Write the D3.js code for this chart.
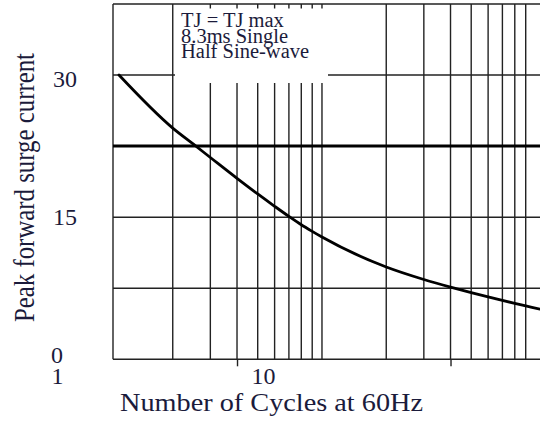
<!DOCTYPE html>
<html>
<head>
<meta charset="utf-8">
<script src="https://cdn.jsdelivr.net/npm/d3@7"></script>
<style>
  html, body { margin: 0; padding: 0; background: #fff; }
  svg { display: block; }
  svg text { font-family: "Liberation Serif", "DejaVu Serif", serif; }
</style>
</head>
<body>
<svg id="chart" width="540" height="421"></svg>
<script>
// ---- data ----
const cycles  = [1.12, 2, 2.5, 3, 4, 5, 6, 7, 8, 9, 10, 20, 30, 40, 50, 60, 70, 80, 90, 105];
const current = [30, 24.4, 22.7, 21.3, 19.1, 17.45, 16.15, 15.08, 14.2, 13.5, 12.9, 9.74, 8.42, 7.61, 7.03, 6.58, 6.21, 5.9, 5.64, 5.3];
const xGridValues = [2, 3, 4, 5, 6, 7, 8, 9, 10, 20, 30, 40, 50, 60, 70, 80, 90];
const yGridValues = [7.5, 15, 30, 37.5];
const refLevel = [22.5];
const yTickValues = [0, 15, 30];
const xTickMarks = [4, 40];
const xTickLabels = ["1", "10"];
const noteLines = ["TJ = TJ max", "8.3ms Single", "Half Sine-wave"];
const xTitle = "Number of Cycles at 60Hz";
const yTitle = "Peak forward surge current";

// ---- layout ----
const W = 540, H = 421;
const mLeft = 113, mRight = 540, mTop = 4, mBottom = 359.3;
const ink = "#1b1b3b";

const svg = d3.select("#chart");
svg.append("rect").attr("width", W).attr("height", H).attr("fill", "#fff");

const x = d3.scaleLog().domain([1.05, 105]).range([mLeft, mRight]);
const y = d3.scaleLinear().domain([0, 37.5]).range([mBottom, mTop]);

const grid = svg.append("g").attr("stroke", "#222").attr("stroke-width", 1.4);

// vertical grid
grid.selectAll("line.v").data(xGridValues).join("line")
  .attr("class", "v")
  .attr("x1", d => x(d)).attr("x2", d => x(d))
  .attr("y1", y(0)).attr("y2", y(37.5));

// horizontal grid
grid.selectAll("line.h").data(yGridValues).join("line")
  .attr("class", "h")
  .attr("x1", mLeft).attr("x2", mRight)
  .attr("y1", d => y(d)).attr("y2", d => y(d));

// frame left & bottom
grid.append("line").attr("x1", mLeft).attr("x2", mLeft).attr("y1", y(0)).attr("y2", y(37.5));
grid.append("line").attr("x1", mLeft).attr("x2", mRight).attr("y1", y(0)).attr("y2", y(0));

// reference level (bold)
svg.selectAll("line.ref").data(refLevel).join("line")
  .attr("class", "ref")
  .attr("x1", mLeft).attr("x2", mRight)
  .attr("y1", d => y(d)).attr("y2", d => y(d))
  .attr("stroke", "#000").attr("stroke-width", 3);

// note box (white, covers grid)
svg.append("rect")
  .attr("x", 175).attr("y", 8.5).attr("width", 153).attr("height", 74.5)
  .attr("fill", "#fff");

const note = svg.append("text").attr("font-size", 20.5).attr("fill", ink);
note.selectAll("tspan").data(noteLines).join("tspan")
  .attr("x", 181)
  .attr("y", (d, i) => 26.7 + i * 15.8)
  .text(d => d);

// x tick marks below the axis
const xAxis = svg.append("g")
  .attr("transform", `translate(0,${mBottom})`)
  .call(d3.axisBottom(x).tickValues(xTickMarks).tickSize(7).tickFormat(() => ""));
xAxis.select(".domain").remove();
xAxis.selectAll(".tick line").attr("stroke", "#222").attr("stroke-width", 1.4);

// y axis labels
const yAxis = svg.append("g")
  .attr("transform", `translate(${mLeft},0)`)
  .call(d3.axisLeft(y).tickValues(yTickValues).tickSize(0).tickFormat(d3.format("d")));
yAxis.select(".domain").remove();
yAxis.selectAll(".tick text")
  .attr("font-family", null)
  .attr("font-size", 24).attr("fill", ink)
  .attr("dy", 0)
  .attr("text-anchor", d => d === 0 ? "middle" : "end")
  .attr("x", d => d === 0 ? -56 : -36)
  .attr("y", d => d === 30 ? 11.9 : d === 15 ? 7.8 : 3.4);

// x tick labels (as placed in the original)
const xLabelPos = [57.5, 263.5];
svg.selectAll("text.xl").data(xTickLabels).join("text")
  .attr("class", "xl")
  .attr("x", (d, i) => xLabelPos[i]).attr("y", 384)
  .attr("text-anchor", "middle")
  .attr("font-size", 24).attr("fill", ink)
  .text(d => d);

// curve
const pts = cycles.map((c, i) => [c, current[i]]);
svg.append("path")
  .datum(pts)
  .attr("fill", "none").attr("stroke", "#000").attr("stroke-width", 2.8)
  .attr("stroke-linecap", "round")
  .attr("d", d3.line().x(d => x(d[0])).y(d => y(d[1])).curve(d3.curveMonotoneX));

// titles
svg.append("text")
  .attr("x", 271.5).attr("y", 411)
  .attr("text-anchor", "middle")
  .attr("font-size", 25).attr("fill", ink)
  .attr("textLength", 303).attr("lengthAdjust", "spacingAndGlyphs")
  .text(xTitle);

svg.append("text")
  .attr("transform", "translate(34,187.5) rotate(-90)")
  .attr("text-anchor", "middle")
  .attr("font-size", 29).attr("fill", ink)
  .attr("textLength", 269).attr("lengthAdjust", "spacingAndGlyphs")
  .text(yTitle);
</script>
</body>
</html>
